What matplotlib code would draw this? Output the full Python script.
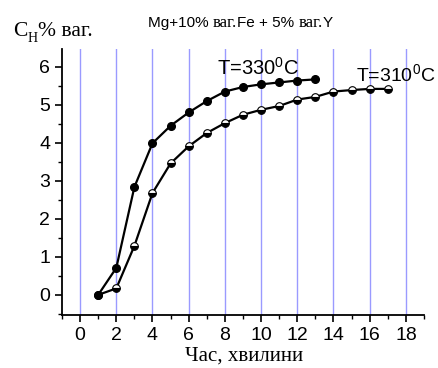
import matplotlib
matplotlib.use("Agg")
import matplotlib.pyplot as plt
from matplotlib.transforms import IdentityTransform
from matplotlib.ticker import MultipleLocator

# Дані
t330 = [1, 2, 3, 4, 5, 6, 7, 8, 9, 10, 11, 12, 13]
c330 = [0.0, 0.71, 2.84, 3.99, 4.45, 4.80, 5.10, 5.35, 5.47, 5.54, 5.59, 5.64, 5.67]
t310 = [1, 2, 3, 4, 5, 6, 7, 8, 9, 10, 11, 12, 13, 14, 15, 16, 17]
c310 = [0.0, 0.17, 1.29, 2.68, 3.46, 3.91, 4.26, 4.52, 4.74, 4.87, 4.97, 5.14,
        5.21, 5.35, 5.39, 5.42, 5.42]
xticks = list(range(0, 19, 2))

plt.rcParams['mathtext.fontset'] = 'custom'
plt.rcParams['mathtext.rm'] = 'Liberation Sans'
SANS = 'Liberation Sans'
SERIF = 'Liberation Serif'

W, H = 439, 368
fig = plt.figure(figsize=(W / 100, H / 100), dpi=100)
ax = fig.add_axes([62 / W, 1 - 315 / H, (424 - 62) / W, (315 - 49) / H])

for x in xticks:
    ax.axvline(x, color='#9a9aff', lw=1, zorder=0)

ax.plot(t310, c310, '-o', color='black', lw=1.6, ms=5.5, mec='black', mew=0.8,
        mfc='black', mfcalt='white', fillstyle='bottom', zorder=3)
ax.plot(t330, c330, '-o', color='black', lw=1.6, ms=5.5, mfc='black',
        mec='black', zorder=4)

ax.set_xlim(-1, 19)
ax.set_ylim(-0.53, 6.47)
ax.set_xticks(xticks)
ax.xaxis.set_minor_locator(MultipleLocator(1))
ax.yaxis.set_major_locator(MultipleLocator(1))
ax.yaxis.set_minor_locator(MultipleLocator(0.5))
ax.spines['top'].set_visible(False)
ax.spines['right'].set_visible(False)
for s in ('left', 'bottom'):
    ax.spines[s].set_linewidth(1.3)
ax.tick_params(which='major', direction='out', length=5, width=1.2, labelsize=14)
ax.tick_params(which='minor', direction='out', length=3, width=1.0)
for lab in ax.get_xticklabels() + ax.get_yticklabels():
    lab.set_family(SANS)

renderer = fig.canvas.get_renderer()


def chain(x, y, pieces):
    # pieces: (текст, розмір, шрифт, зсув по y у пікселях)
    for txt, size, fam, dy in pieces:
        t = fig.text(x, H - y - dy, txt, transform=IdentityTransform(),
                     fontsize=size, family=fam, va='baseline', ha='left')
        x = t.get_window_extent(renderer).x1
    return x


chain(148, 27, [("Mg+10% ", 11, SANS, 0), ("ваг.", 12, SERIF, 0),
                ("Fe + 5% ", 11, SANS, 0), ("ваг.", 12, SERIF, 0),
                ("Y", 11, SANS, 0)])
chain(13, 36, [("C", 15.5, SERIF, 0), ("H", 10, SERIF, 6), ("% ваг.", 15.5, SERIF, 0)])

fig.text(217, H - 75, r"T=330$^{\mathrm{0}}$C", transform=IdentityTransform(),
         fontsize=14.5, family=SANS, va='baseline')
fig.text(356, H - 82, r"T=310$^{\mathrm{0}}$C", transform=IdentityTransform(),
         fontsize=14, family=SANS, va='baseline')
fig.text(244, H - 361, "Час, хвилини", transform=IdentityTransform(),
         fontsize=15, family=SERIF, va='baseline', ha='center')

fig.savefig("out.png", dpi=100)
